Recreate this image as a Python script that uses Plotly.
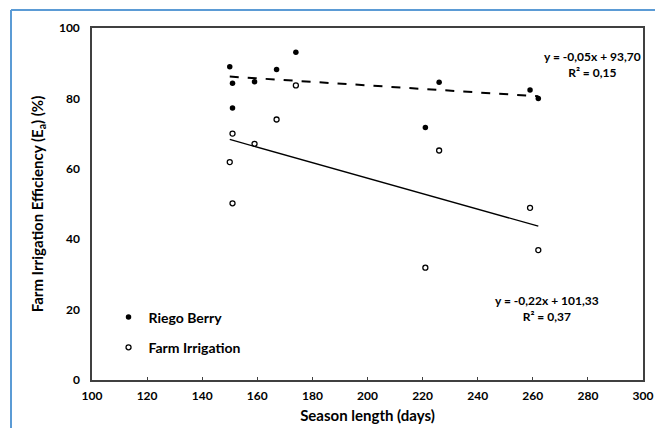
import plotly.graph_objects as go

# datos
season_days = [150, 151, 151, 159, 167, 174, 221, 226, 259, 262]
riego_berry = [89.0, 84.3, 77.3, 84.7, 88.2, 93.1, 71.7, 84.6, 82.4, 80.0]
farm_days = [150, 151, 151, 159, 167, 174, 221, 226, 259, 262]
farm_irrigation = [61.9, 70.0, 50.2, 67.1, 74.0, 83.7, 31.9, 65.2, 48.9, 36.9]

# lineas de tendencia (de las ecuaciones del grafico)
riego_slope, riego_icpt = -0.05, 93.70
farm_slope, farm_icpt = -0.22, 101.33

x_ticks = [100, 120, 140, 160, 180, 200, 220, 240, 260, 280, 300]
y_ticks = [0, 20, 40, 60, 80, 100]

font = "Lato"
fig = go.Figure()

# tendencia Riego Berry (discontinua)
rx = [min(season_days), max(season_days)]
fig.add_trace(go.Scatter(x=rx, y=[riego_slope * v + riego_icpt for v in rx],
                         mode="lines", line=dict(color="black", width=2, dash="dash"),
                         showlegend=False, hoverinfo="skip"))
# tendencia Farm Irrigation
fx = [min(farm_days), max(farm_days)]
fig.add_trace(go.Scatter(x=fx, y=[farm_slope * v + farm_icpt for v in fx],
                         mode="lines", line=dict(color="black", width=1.3),
                         showlegend=False, hoverinfo="skip"))

fig.add_trace(go.Scatter(x=season_days, y=riego_berry, mode="markers", name="Riego Berry",
                         legendgroup="a",
                         marker=dict(symbol="circle", size=5.5, color="black")))
fig.add_trace(go.Scatter(x=farm_days, y=farm_irrigation, mode="markers", name="Farm Irrigation",
                         legendgroup="b",
                         marker=dict(symbol="circle-open", size=5, color="black",
                                     line=dict(width=1.3, color="black"))))

fig.add_annotation(x=281.5, y=89.5, xref="x", yref="y",
                   text="y = -0,05x + 93,70<br>R² = 0,15", showarrow=False, align="center",
                   font=dict(family=font, size=12, color="black", weight="bold"))
fig.add_annotation(x=265, y=20.2, xref="x", yref="y",
                   text="y = -0,22x + 101,33<br>R² = 0,37", showarrow=False, align="center",
                   font=dict(family=font, size=12, color="black", weight="bold"))

# marco azul exterior
fig.add_shape(type="line", xref="paper", yref="paper", x0=-0.147, x1=1.03, y0=1.051, y1=1.051,
              line=dict(color="#5b9bd5", width=2))
fig.add_shape(type="line", xref="paper", yref="paper", x0=-0.147, x1=-0.147, y0=1.051, y1=-0.14,
              line=dict(color="#5b9bd5", width=2))

fig.update_layout(
    width=655, height=428,
    margin=dict(l=92, r=12, t=28, b=48),
    plot_bgcolor="white", paper_bgcolor="white",
    font=dict(family=font, color="black", size=12, weight="bold"),
    legend=dict(x=0.03, y=0.223, yanchor="top", xanchor="left", bgcolor="rgba(0,0,0,0)",
                font=dict(family=font, size=14, weight="bold"), tracegroupgap=9),
    xaxis=dict(range=[100, 300], tickvals=x_ticks, showgrid=False, zeroline=False,
               showline=True, linecolor="#404040", linewidth=1.5, mirror=True,
               ticks="inside", ticklen=3, tickcolor="#404040", ticklabelstandoff=4,
               automargin=False,
               title=dict(text="Season length (days)", standoff=8,
                          font=dict(family=font, size=15, weight="bold"))),
    yaxis=dict(range=[0, 100], tickvals=y_ticks, showgrid=False, zeroline=False,
               showline=True, linecolor="#404040", linewidth=1.5, mirror=True,
               ticks="", ticklabelstandoff=8, automargin=False,
               title=dict(text="Farm Irrigation Efficiency (E<sub>a</sub>) (%)", standoff=12,
                          font=dict(family=font, size=15, weight="bold"))),
)

# quitar el margen de 8px del body para usar toda la ventana
fig.write_html("out.html", config={"displayModeBar": False},
               post_script="document.body.style.margin='0px';")
